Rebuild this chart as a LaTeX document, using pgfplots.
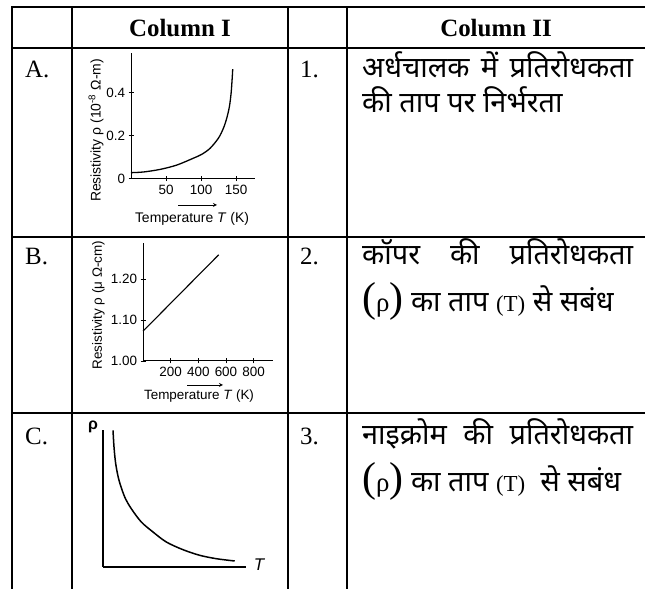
\documentclass[border=0pt]{standalone}
\usepackage{fontspec}
\setmainfont{Liberation Serif}
\newfontfamily\arial{Liberation Sans}
\newfontfamily\hindi[Script=Devanagari]{Noto Sans}
\usepackage{pgfplots}
\pgfplotsset{compat=1.18}
\pgfplotstableread{
T rho
0 0.028
17.6 0.031
41.4 0.043
65.2 0.063
89 0.095
101 0.113
112.9 0.141
124.8 0.188
131.9 0.234
136.7 0.281
140.5 0.335
142.9 0.397
144.3 0.459
145.2 0.508
}\semidata
\pgfplotstableread{
T rho
0 1.073
547 1.260
}\copperdata
\pgfplotstableread{
T rho
10 136.7
11 120
12.7 103.3
16 86.7
21.7 70
28.3 58.3
38.3 45
50 35
63.3 25
80 17.3
96.7 11.7
113.3 8.3
131.7 6
}\nichromedata
\newcommand{\fsz}[1]{\fontsize{#1}{#1}\selectfont}
\begin{document}
\begin{tikzpicture}[x=1bp,y=1bp]
\useasboundingbox (0,0) rectangle (645,589);
% table rules
\begin{scope}[line width=1.6bp]
\draw (12,582) -- (645,582);
\draw (12,541) -- (645,541);
\draw (12,352) -- (645,352);
\draw (12,176) -- (645,176);
\foreach \x in {12,72,288,347} \draw (\x,582.8) -- (\x,0);
\end{scope}
% header
\node[anchor=base,inner sep=0,font=\bfseries\fsz{25}] at (180,552) {Column I};
\node[anchor=base,inner sep=0,font=\bfseries\fsz{25}] at (496,552) {Column II};
% row labels
\node[anchor=base west,inner sep=0,font=\fsz{25}] at (25,511) {A.};
\node[anchor=base west,inner sep=0,font=\fsz{25}] at (25,324) {B.};
\node[anchor=base west,inner sep=0,font=\fsz{25}] at (25,144) {C.};
\node[anchor=base west,inner sep=0,font=\fsz{25}] at (300,511) {1.};
\node[anchor=base west,inner sep=0,font=\fsz{25}] at (300,324) {2.};
\node[anchor=base west,inner sep=0,font=\fsz{25}] at (300,144) {3.};
% Hindi text
\node[anchor=base west,inner sep=0,font=\hindi\fsz{29}] at (362,511) {\hbox to 271bp{अर्धचालक\hfill में\hfill प्रतिरोधकता}};
\node[anchor=base west,inner sep=0,font=\hindi\fsz{29}] at (362,476) {की ताप पर निर्भरता};
\node[anchor=base west,inner sep=0,font=\hindi\fsz{29}] at (362,324) {\hbox to 271bp{कॉपर\hfill की\hfill प्रतिरोधकता}};
\node[anchor=base west,inner sep=0,font=\hindi\fsz{29}] at (362,277) {{\rmfamily\fsz{42}(}{\rmfamily\fsz{27}ρ}{\rmfamily\fsz{42})} का ताप {\rmfamily\fsz{23}(T)} से सबंध};
\node[anchor=base west,inner sep=0,font=\hindi\fsz{29}] at (362,144) {\hbox to 271bp{नाइक्रोम\hfill की\hfill प्रतिरोधकता}};
\node[anchor=base west,inner sep=0,font=\hindi\fsz{29}] at (362,97) {{\rmfamily\fsz{42}(}{\rmfamily\fsz{27}ρ}{\rmfamily\fsz{42})} का ताप {\rmfamily\fsz{23}(T)}\ \ से सबंध};

% Chart A
\begin{scope}[xshift=131bp,yshift=410.3bp]
\begin{axis}[scale only axis,
  width=124bp,height=125.7bp,xmin=0,xmax=177,ymin=0,ymax=0.583,
  axis x line=bottom,axis y line=left,axis line style={-,line width=1bp},
  xtick={50,100,150},xticklabels={50,100,150},
  ytick={0,0.2,0.4},yticklabels={0,0.2,0.4},
  tick align=center,major tick length=5bp,tick style={black,line width=0.8bp},
  tick label style={font=\arial\fsz{13.5}},
  clip=false]
\addplot[black,line width=1.3bp,smooth] table[x=T,y=rho] {\semidata};
\end{axis}
\end{scope}
\node[font=\arial\fsz{14},inner sep=0] at (192,370.5) {Temperature \textit{T} (K)};
\node[font=\arial\fsz{14},inner sep=0,rotate=90] at (96,458.5) {Resistivity ρ (10\textsuperscript{-8} Ω-m)};
\draw[->,>=stealth,line width=0.8bp] (178,384) -- (217,384);

% Chart B
\begin{scope}[xshift=143bp,yshift=228bp]
\begin{axis}[scale only axis,
  width=130bp,height=118bp,xmin=0,xmax=940,ymin=1.0,ymax=1.289,
  axis x line=bottom,axis y line=left,axis line style={-,line width=1bp},
  xtick={200,400,600,800},xticklabels={200,400,600,800},
  ytick={1.0,1.1,1.2},yticklabels={1.00,1.10,1.20},
  tick align=center,major tick length=5bp,tick style={black,line width=0.8bp},
  tick label style={font=\arial\fsz{13.5}},
  clip=false]
\addplot[black,line width=1.1bp] table[x=T,y=rho] {\copperdata};
\end{axis}
\end{scope}
\node[font=\arial\fsz{13.5},inner sep=0] at (199,193) {Temperature \textit{T} (K)};
\node[font=\arial\fsz{13.5},inner sep=0,rotate=90] at (98.5,284) {Resistivity ρ (μ Ω-cm)};
\draw[->,>=stealth,line width=0.8bp] (187,204) -- (223,204);

% Chart C
\begin{scope}[xshift=103bp,yshift=22bp]
\begin{axis}[scale only axis,
  width=143bp,height=137bp,xmin=0,xmax=143,ymin=0,ymax=137,
  axis x line=bottom,axis y line=left,axis line style={-,line width=1.4bp},
  xtick=\empty,ytick=\empty,clip=false]
\addplot[black,line width=1.5bp,smooth] table[x=T,y=rho] {\nichromedata};
\end{axis}
\end{scope}
\node[font=\arial\bfseries\fsz{16},inner sep=0] at (93,162) {ρ};
\node[font=\arial\itshape\fsz{17},inner sep=0] at (259,24) {T};
\end{tikzpicture}
\end{document}
